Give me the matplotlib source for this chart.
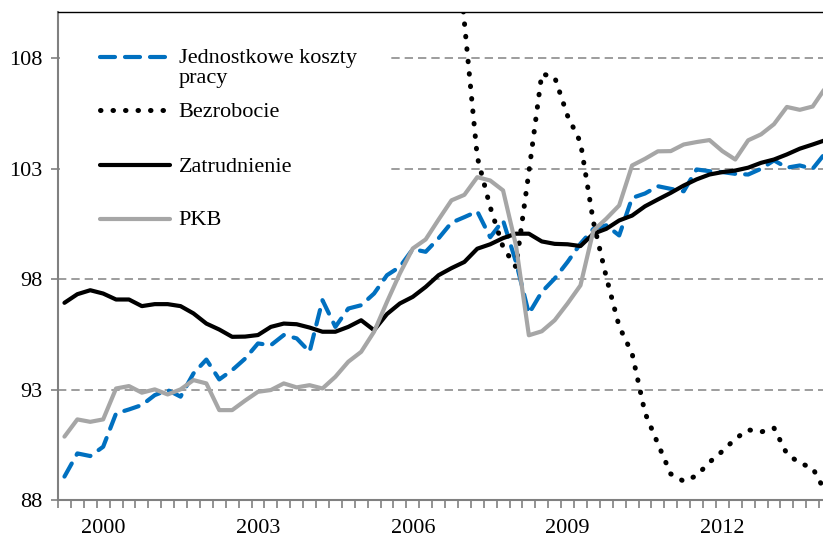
import matplotlib.pyplot as plt
import numpy as np
from matplotlib.patches import Rectangle

plt.rcParams['font.family'] = ['Liberation Serif', 'DejaVu Serif']

# kwartaly, od 1999 Q1
quarters = np.arange(60)
year_pos = [3, 15, 27, 39, 51]
year_labels = ['2000', '2003', '2006', '2009', '2012']
y_ticks = [88, 93, 98, 103, 108]

koszty = [89.06, 90.11, 89.99, 90.41, 91.92, 92.10, 92.30, 92.75, 92.98, 92.68,
          93.73, 94.36, 93.46, 93.88, 94.40, 95.09, 95.01, 95.47, 95.32, 94.71,
          97.05, 95.84, 96.67, 96.82, 97.35, 98.18, 98.56, 99.36, 99.24, 99.85,
          100.56, 100.81, 101.07, 99.90, 100.66, 98.78, 96.44, 97.42, 98.03, 98.78,
          99.61, 100.28, 100.44, 99.98, 101.68, 101.88, 102.21, 102.09, 101.98, 102.97,
          102.89, 102.85, 102.77, 102.74, 103.00, 103.38, 103.05, 103.15, 103.00, 103.73]

bezrobocie = [np.nan] * 30 + [
          116.0, 109.64, 103.53, 101.27, 99.45, 98.55, 102.85, 107.30, 107.15, 105.40,
          104.20, 100.60, 98.10, 95.86, 94.64, 91.95, 90.55, 89.18, 88.85, 89.10,
          89.71, 90.21, 90.77, 91.18, 91.08, 91.26, 90.09, 89.67, 89.45, 88.35]

zatrudnienie = [96.93, 97.32, 97.50, 97.35, 97.08, 97.08, 96.78, 96.87, 96.87, 96.78,
                96.45, 95.99, 95.72, 95.39, 95.40, 95.47, 95.84, 95.99, 95.96, 95.81,
                95.62, 95.62, 95.84, 96.14, 95.69, 96.42, 96.90, 97.20, 97.65, 98.18,
                98.50, 98.78, 99.38, 99.58, 99.86, 100.06, 100.06, 99.71, 99.60, 99.58,
                99.50, 100.06, 100.28, 100.66, 100.88, 101.30, 101.61, 101.91, 102.24, 102.52,
                102.74, 102.85, 102.92, 103.05, 103.27, 103.42, 103.65, 103.91, 104.10, 104.30]

pkb = [90.87, 91.65, 91.54, 91.65, 93.05, 93.16, 92.86, 93.01, 92.78, 93.01,
       93.43, 93.28, 92.07, 92.07, 92.50, 92.90, 92.98, 93.28, 93.10, 93.20,
       93.05, 93.58, 94.26, 94.71, 95.62, 96.97, 98.26, 99.39, 99.80, 100.70,
       101.57, 101.82, 102.62, 102.47, 102.02, 99.53, 95.46, 95.64, 96.14, 96.90,
       97.72, 100.20, 100.74, 101.34, 103.15, 103.45, 103.79, 103.80, 104.10, 104.21,
       104.30, 103.80, 103.42, 104.29, 104.56, 105.02, 105.80, 105.67, 105.82, 106.68]

styles = [
    ('Jednostkowe koszty\npracy', koszty,
     dict(color='#0070c0', lw=3, ls=(0, (3.6, 2.4)), dash_capstyle='round')),
    ('Bezrobocie', bezrobocie,
     dict(color='black', lw=3.6, ls=(0, (0.1, 2.4)), dash_capstyle='round')),
    ('Zatrudnienie', zatrudnienie,
     dict(color='black', lw=3, solid_capstyle='round')),
    ('PKB', pkb,
     dict(color='#a6a6a6', lw=3, solid_capstyle='round')),
]

fig = plt.figure(figsize=(8.23, 5.40), dpi=100)
ax = fig.add_axes([58 / 823, 40 / 540, 765 / 823, 488 / 540])

for label, vals, st in styles:
    ax.plot(quarters, vals, zorder=2, **st)

ax.set_xlim(-0.5, 58.8)
ax.set_ylim(88, 110.1)

ax.set_yticks(y_ticks)
ax.yaxis.grid(True, ls=(0, (5, 3)), color='#8c8c8c', lw=1.2)
ax.set_axisbelow(True)

ax.set_xticks(year_pos)
ax.set_xticklabels(year_labels)
ax.set_xticks(np.arange(-0.5, 59.5, 1), minor=True)
ax.tick_params(axis='x', which='major', length=0, pad=14, labelsize=16)
ax.tick_params(axis='x', which='minor', length=6, width=1.2, color='#808080', direction='out')
ax.tick_params(axis='y', length=5, width=1.2, color='#808080', pad=6, labelsize=16)

for side in ['left', 'bottom']:
    ax.spines[side].set_color('#808080')
    ax.spines[side].set_linewidth(1.5)
ax.spines['top'].set_color('black')
ax.spines['top'].set_linewidth(1)
ax.spines['right'].set_visible(False)

# legenda (jak w Excelu) - biale tlo zaslania linie siatki
ax.add_patch(Rectangle((0.003, 0.52), 0.43, 0.47, transform=ax.transAxes,
                       facecolor='white', edgecolor='none', zorder=1))
leg_y = [0.908, 0.799, 0.686, 0.576]
for (label, vals, st), ly in zip(styles, leg_y):
    ax.plot([0.055, 0.146], [ly, ly], transform=ax.transAxes, clip_on=False, zorder=3, **st)
    if '\n' in label:
        ax.text(0.158, ly + 0.016, label, transform=ax.transAxes, fontsize=16,
                va='top', ha='left', linespacing=1.1, zorder=3)
    else:
        ax.text(0.158, ly - 0.004, label, transform=ax.transAxes, fontsize=16,
                va='center', ha='left', zorder=3)

plt.savefig('out.png', dpi=100)
